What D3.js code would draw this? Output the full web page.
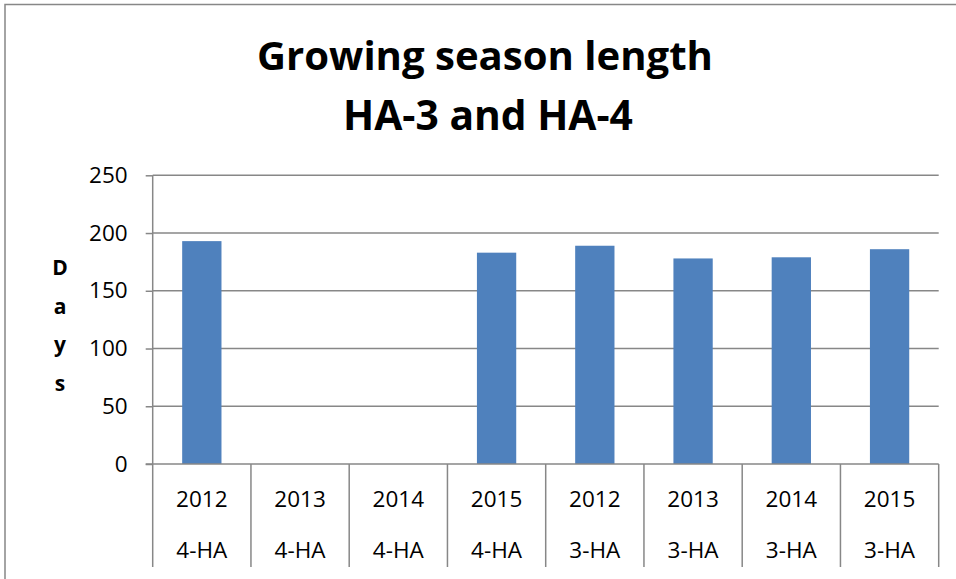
<!DOCTYPE html>
<html><head><meta charset="utf-8">
<script src="https://cdn.jsdelivr.net/npm/d3@7"></script>
<style>body{margin:0;background:#fff}svg{display:block}text{font-family:"Open Sans",sans-serif}</style>
</head><body>
<svg id="c" width="956" height="579"></svg>
<script>
const years = ["2012","2013","2014","2015","2012","2013","2014","2015"];
const groups = ["4-HA","4-HA","4-HA","4-HA","3-HA","3-HA","3-HA","3-HA"];
const values = [193, null, null, 183, 189, 178, 179, 186];
const yTicks = [0, 50, 100, 150, 200, 250];
const titleLines = ["Growing season length", "HA-3 and HA-4"];
const yTitle = "Days";

const svg = d3.select("#c");
const W = 956, H = 579;
const L = 152.7, R = 938.7, T = 175.3, B = 464;
const grey = "#878787";

// outer frame (top and left visible)
svg.append("path").attr("d", `M5,${H+2}V4.5H${W+2}`).attr("fill","none").attr("stroke",grey).attr("stroke-width",1.5);

const idx = values.map((d,i)=>i);
const x = d3.scaleBand().domain(idx).range([L, R]).paddingInner(0.6).paddingOuter(0.3);
const xb = d3.scaleBand().domain(idx).range([L, R]);
const y = d3.scaleLinear().domain([0, 250]).range([B, T]);

// gridlines
svg.append("g").selectAll("line").data(yTicks.filter(t=>t>0)).join("line")
  .attr("x1", L).attr("x2", R).attr("y1", d=>y(d)).attr("y2", d=>y(d))
  .attr("stroke", grey).attr("stroke-width", 1.5);

// bars
svg.append("g").selectAll("rect").data(values.map((v,i)=>({v,i})).filter(d=>d.v!=null)).join("rect")
  .attr("x", d=>x(d.i)).attr("width", x.bandwidth())
  .attr("y", d=>y(d.v)).attr("height", d=>B - y(d.v))
  .attr("fill", "#4F81BD");

// y axis
const yAxis = svg.append("g").attr("transform", `translate(${L},0)`)
  .call(d3.axisLeft(y).tickValues(yTicks).tickSize(7).tickPadding(18));
yAxis.select(".domain").attr("stroke", grey).attr("stroke-width", 1.5).attr("d", `M0,${T}V${B}`);
yAxis.selectAll(".tick line").attr("stroke", grey).attr("stroke-width", 1.5);
yAxis.selectAll(".tick text").attr("font-size", 22.5).attr("fill", "#000").attr("font-family", "Open Sans");

// x axis baseline
svg.append("line").attr("x1", L - 7).attr("x2", R).attr("y1", B).attr("y2", B).attr("stroke", grey).attr("stroke-width", 1.5);

// category separators
const seps = idx.map(i=>xb(i)).concat([R]);
svg.append("g").selectAll("line").data(seps).join("line")
  .attr("x1", d=>d).attr("x2", d=>d).attr("y1", B).attr("y2", 567)
  .attr("stroke", grey).attr("stroke-width", 1.5);

// category labels
const cl = svg.append("g").attr("font-size", 22.5).attr("text-anchor", "middle").attr("fill", "#000");
cl.selectAll("text.yr").data(years).join("text").attr("class","yr")
  .attr("x", (d,i)=>xb(i)+xb.bandwidth()/2).attr("y", 507).text(d=>d);
cl.selectAll("text.gr").data(groups).join("text").attr("class","gr")
  .attr("x", (d,i)=>xb(i)+xb.bandwidth()/2).attr("y", 558).text(d=>d);

// y title stacked letters
svg.append("g").attr("font-size", 21).attr("font-weight", "bold").attr("text-anchor", "middle")
  .selectAll("text").data(yTitle.split("")).join("text")
  .attr("x", 60).attr("y", (d,i)=>275 + i*38.5).text(d=>d);

// title
const titleY = [70, 130], titleW = [456, 290], titleX = [485, 488];
titleLines.forEach((t,i)=>{
  const el = svg.append("text").attr("x", titleX[i]).attr("y", titleY[i])
    .attr("text-anchor","middle").attr("font-weight","bold").attr("font-size", 38).text(t);
  const w = el.node().getComputedTextLength();
  el.attr("font-size", 38 * titleW[i] / w);
});
</script>
</body></html>
